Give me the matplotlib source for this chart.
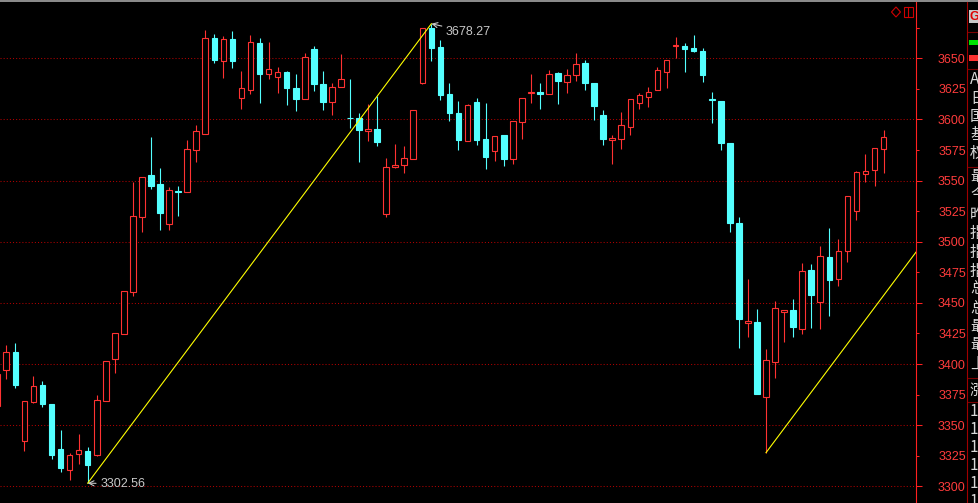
import matplotlib
matplotlib.use("Agg")
import matplotlib.pyplot as plt
from matplotlib.ticker import FixedLocator, FuncFormatter
from matplotlib.patches import Rectangle, Polygon
from matplotlib.lines import Line2D
import numpy as np

# ---------------- data ----------------
opens = [3365.7, 3394.8, 3409.8, 3337.3, 3369.2, 3382.8, 3367.3, 3330.5, 3313.6, 3326.2,
         3328.6, 3325.3, 3369.5, 3404.3, 3424.3, 3459.1, 3520.5, 3554.3, 3547.2, 3514.2,
         3541.5, 3540.9, 3575.3, 3588.3, 3666.4, 3648.0, 3665.8, 3617.8, 3624.1, 3662.5,
         3636.9, 3635.0, 3638.8, 3625.5, 3616.5, 3657.4, 3629.0, 3614.0, 3626.3, 3601.2,
         3601.2, 3590.8, 3592.2, 3522.4, 3560.9, 3563.0, 3567.9, 3630.0, 3674.8, 3659.2,
         3620.8, 3605.3, 3582.6, 3614.3, 3584.0, 3574.0, 3587.3, 3567.4, 3597.7, 3621.4,
         3622.4, 3620.6, 3638.0, 3630.9, 3636.6, 3646.2, 3629.8, 3603.6, 3583.4, 3584.2,
         3594.1, 3613.7, 3618.6, 3624.3, 3639.0, 3659.8, 3660.1, 3658.4, 3656.0, 3616.7,
         3615.1, 3580.7, 3515.3, 3433.6, 3434.3, 3372.8, 3401.9, 3442.3, 3444.2, 3428.9,
         3476.6, 3450.5, 3487.5, 3469.8, 3492.7, 3525.4, 3555.6, 3558.9, 3576.1]
highs = [3393.0, 3415.5, 3417.4, 3369.5, 3390.2, 3386.1, 3367.3, 3346.0, 3327.0, 3342.8,
         3332.1, 3374.6, 3402.2, 3425.1, 3459.5, 3548.8, 3552.7, 3585.6, 3560.3, 3544.5,
         3545.6, 3583.2, 3595.5, 3673.1, 3669.9, 3668.2, 3672.3, 3639.6, 3669.1, 3666.6,
         3663.3, 3642.9, 3639.6, 3637.2, 3654.3, 3660.1, 3639.6, 3629.8, 3653.5, 3633.1,
         3605.3, 3612.6, 3619.2, 3568.5, 3579.9, 3578.3, 3607.5, 3674.5, 3678.27, 3664.7,
         3629.8, 3615.1, 3612.4, 3617.5, 3613.4, 3586.2, 3587.3, 3598.7, 3617.3, 3637.2,
         3629.8, 3640.2, 3639.0, 3641.0, 3654.3, 3648.6, 3629.8, 3607.7, 3587.3, 3606.1,
         3616.5, 3621.6, 3626.5, 3642.6, 3649.0, 3667.4, 3662.5, 3669.1, 3658.4, 3622.4,
         3615.1, 3580.7, 3520.2, 3469.5, 3445.0, 3412.3, 3451.5, 3444.5, 3452.8, 3482.6,
         3481.8, 3496.5, 3511.2, 3502.2, 3537.4, 3557.8, 3571.7, 3577.0, 3591.4]
lows = [3364.0, 3388.0, 3380.6, 3329.1, 3368.4, 3364.8, 3322.6, 3311.9, 3305.0, 3318.0,
        3302.56, 3325.0, 3369.5, 3392.9, 3424.3, 3455.9, 3508.2, 3543.4, 3509.6, 3509.6,
        3521.0, 3540.9, 3565.2, 3588.3, 3646.4, 3634.1, 3642.3, 3608.8, 3621.0, 3613.4,
        3633.1, 3621.9, 3612.1, 3607.1, 3616.5, 3623.5, 3608.0, 3603.9, 3626.3, 3593.2,
        3565.4, 3582.6, 3578.5, 3520.5, 3560.5, 3556.4, 3567.9, 3629.2, 3648.0, 3615.9,
        3599.0, 3575.3, 3582.6, 3579.3, 3559.7, 3566.3, 3562.2, 3563.3, 3584.2, 3613.7,
        3608.8, 3620.6, 3612.9, 3621.9, 3631.7, 3624.3, 3599.8, 3579.3, 3563.8, 3576.1,
        3587.5, 3608.8, 3610.2, 3624.3, 3625.7, 3650.0, 3639.0, 3655.4, 3630.9, 3597.3,
        3575.3, 3508.2, 3413.3, 3422.3, 3375.7, 3327.5, 3388.8, 3418.2, 3422.3, 3424.8,
        3429.7, 3428.9, 3439.5, 3464.0, 3483.7, 3517.8, 3549.1, 3545.6, 3556.4]
closes = [3391.8, 3409.8, 3383.1, 3369.5, 3381.8, 3367.5, 3325.8, 3315.2, 3325.6, 3329.4,
          3317.2, 3370.3, 3402.2, 3425.1, 3459.5, 3520.8, 3552.7, 3545.8, 3523.7, 3542.1,
          3541.0, 3575.6, 3590.3, 3666.4, 3648.6, 3665.5, 3647.8, 3625.5, 3663.1, 3637.4,
          3641.0, 3638.6, 3626.0, 3617.0, 3650.8, 3629.2, 3614.5, 3626.3, 3632.8, 3600.9,
          3591.6, 3592.2, 3581.8, 3561.1, 3562.5, 3568.5, 3607.5, 3674.5, 3658.7, 3620.2,
          3605.5, 3583.4, 3611.6, 3583.4, 3569.5, 3586.2, 3567.9, 3598.7, 3617.3, 3622.4,
          3620.6, 3636.9, 3631.7, 3636.1, 3645.3, 3630.0, 3611.2, 3584.2, 3584.8, 3595.2,
          3616.5, 3619.7, 3622.2, 3640.2, 3648.4, 3661.1, 3657.9, 3656.2, 3636.6, 3616.3,
          3580.7, 3515.6, 3437.0, 3435.0, 3375.7, 3403.0, 3445.6, 3444.2, 3430.5, 3475.8,
          3456.7, 3488.1, 3468.9, 3492.2, 3537.4, 3556.8, 3557.8, 3576.6, 3585.4]

low_label = "3302.56"
high_label = "3678.27"
ytick_values = list(range(3300, 3676, 25))
panel_chars = ["A", "日", "国", "基", "权", "最", "今", "昨", "指", "指", "指",
               "总", "总", "最", "最", "上", "涨", "1", "1", "1", "1", "1", "1"]

# ---------------- styling ----------------
W, H = 979, 503
UP = "#ff3232"
DOWN = "#54ffff"
AXRED = "#ff2020"
GRID = "#b00000"
TXT = "#c8c8c8"

fig = plt.figure(figsize=(W / 100, H / 100), dpi=100, facecolor="black")
ax = fig.add_axes([0, 0, 916 / W, 1])
ax.set_facecolor("black")

n = len(opens)
idx = np.arange(n)
o = np.array(opens); c = np.array(closes); hi = np.array(highs); lo = np.array(lows)
up = c >= o

# price <-> pixel scale: 3650 at y=58.3, 3300 at y=486.3
pp = 350 / 428.0
ax.set_ylim(3650 - (H - 58.3) * pp, 3650 + 58.3 * pp)
step = 9.044
ax.set_xlim(1 - 6.3 / step, 1 + (916 - 6.3) / step)

# wicks
ax.vlines(idx[up], lo[up], hi[up], color=UP, lw=0.8, zorder=2)
ax.vlines(idx[~up], lo[~up], hi[~up], color=DOWN, lw=0.8, zorder=2)

# bodies
bw = 0.62
bot = np.minimum(o, c)
ht = np.maximum(np.abs(c - o), 0.3)
ax.bar(idx[up], ht[up], bottom=bot[up], width=bw, facecolor="black",
       edgecolor=UP, linewidth=0.8, zorder=3)
ax.bar(idx[~up], ht[~up], bottom=bot[~up], width=bw, facecolor=DOWN,
       edgecolor=DOWN, linewidth=0.8, zorder=3)

# trend line (low -> high) and parallel line
i_lo = int(np.argmin(lo[:40]))
i_hi = int(np.argmax(hi))
slope = (hi[i_hi] - lo[i_lo]) / (i_hi - i_lo)
ax.plot([i_lo, i_hi], [lo[i_lo], hi[i_hi]], color="#ffff00", lw=0.8, zorder=4)
i_lo2 = 60 + int(np.argmin(lo[60:]))
x_end = ax.get_xlim()[1]
ax.plot([i_lo2, x_end], [lo[i_lo2], lo[i_lo2] + slope * (x_end - i_lo2)],
        color="#ffff00", lw=0.8, zorder=4, clip_on=True)

ax.annotate(low_label, xy=(i_lo, lo[i_lo]), xytext=(9, -0.5), textcoords="offset points",
            color=TXT, fontsize=9, family="Liberation Sans", va="center", ha="left",
            arrowprops=dict(arrowstyle="->", color=TXT, lw=0.8, shrinkA=1, shrinkB=0))
ax.annotate(high_label, xy=(i_hi, hi[i_hi]), xytext=(10.5, -6), textcoords="offset points",
            color=TXT, fontsize=9, family="Liberation Sans", va="center", ha="left",
            arrowprops=dict(arrowstyle="->", color=TXT, lw=0.8, shrinkA=1, shrinkB=0))

# axes / ticks
for s in ["left", "top", "bottom"]:
    ax.spines[s].set_visible(False)
ax.spines["right"].set_color(AXRED)
ax.spines["right"].set_linewidth(0.8)
ax.set_xticks([])
ax.yaxis.tick_right()
major = [v for v in ytick_values if v % 50 == 0]
minor = [v for v in ytick_values if v % 50 != 0] + [3675]
ax.yaxis.set_major_locator(FixedLocator(major))
ax.yaxis.set_minor_locator(FixedLocator(minor))
ax.yaxis.set_major_formatter(FuncFormatter(lambda v, p: f"{v:.0f}"))
ax.yaxis.set_minor_formatter(FuncFormatter(lambda v, p: "" if v > 3660 else f"{v:.0f}"))
ax.tick_params(axis="y", which="major", length=4.3, width=0.75, color=AXRED, pad=11.5,
               labelcolor="#ff3c3c", labelsize=9)
ax.tick_params(axis="y", which="minor", length=2.2, width=0.75, color=AXRED, pad=13.7,
               labelcolor="#ff3c3c", labelsize=9)
for lab in ax.get_yticklabels(which="both"):
    lab.set_family("Liberation Sans")
ax.yaxis.grid(True, which="major", color=GRID, linestyle=(0, (1, 2)), linewidth=0.75)
ax.set_axisbelow(True)

# ---------------- decorations (figure coords in px) ----------------
def fx(x): return x / W
def fy(y): return 1 - y / H

fig.add_artist(Rectangle((0, fy(2)), 1, 2 / H, transform=fig.transFigure,
                         facecolor="#8a8a8a", edgecolor="none"))
# panel border and separators
fig.add_artist(Line2D([fx(967.5), fx(967.5)], [0, fy(2)], transform=fig.transFigure,
                      color="#a00000", lw=0.8))
for y in [32, 69, 167, 378, 402]:
    fig.add_artist(Line2D([fx(968), 1], [fy(y), fy(y)], transform=fig.transFigure,
                          color="#7a0000", lw=0.8))
# G button
fig.add_artist(Rectangle((fx(969), fy(23)), 10 / W, 13 / H, transform=fig.transFigure,
                         facecolor="#c8c8c8", edgecolor="none"))
fig.text(fx(970), fy(16.5), "G", color="#e00000", fontsize=9, va="center", ha="left",
         family="Liberation Sans", fontweight="bold")
fig.add_artist(Rectangle((fx(969), fy(45)), 10 / W, 5 / H, transform=fig.transFigure,
                         facecolor="#00e000", edgecolor="none"))
fig.add_artist(Rectangle((fx(969), fy(61)), 10 / W, 6 / H, transform=fig.transFigure,
                         facecolor="#ff3030", edgecolor="none"))
# top icons
fig.add_artist(Polygon([[fx(896), fy(7)], [fx(900.5), fy(12)], [fx(896), fy(17)], [fx(891.5), fy(12)]],
                       closed=True, transform=fig.transFigure, facecolor="none",
                       edgecolor="#d00000", lw=0.8))
fig.add_artist(Rectangle((fx(904), fy(16.5)), 9 / W, 9.5 / H, transform=fig.transFigure,
                         facecolor="none", edgecolor="#d00000", lw=0.8))
fig.add_artist(Line2D([fx(908.5), fx(908.5)], [fy(7), fy(16.5)], transform=fig.transFigure,
                      color="#d00000", lw=0.8))

# panel characters (cut off at the right edge, as in the reference)
ys = [80, 98, 117, 135, 153, 176, 195, 214, 233, 252, 271, 289, 308, 327, 345, 364, 390,
      411, 429, 447, 466, 484, 501]
for ch, y in zip(panel_chars, ys):
    fig.text(fx(970), fy(y), ch, color="#d8d8d8", fontsize=11, va="center", ha="left",
             family=["Noto Sans CJK SC", "DejaVu Sans"])

fig.savefig("out.png", dpi=100, facecolor="black")
